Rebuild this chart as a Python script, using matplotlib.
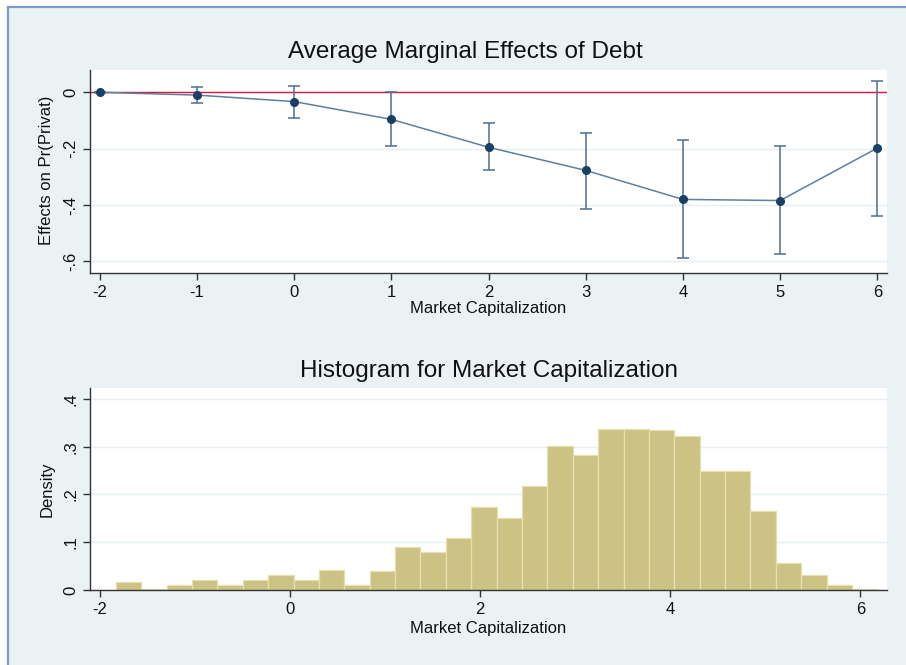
"""Average marginal effects of debt plus the histogram of market capitalization (Stata look)."""

import matplotlib
matplotlib.use("Agg")
import matplotlib.pyplot as plt
from matplotlib.patches import Rectangle
import numpy as np

plt.rcParams["font.family"] = ["Liberation Sans", "DejaVu Sans"]
plt.rcParams["axes.unicode_minus"] = False

# marginal effects at each value of market capitalization
cap_values = [-2, -1, 0, 1, 2, 3, 4, 5, 6]
effect = [0.0, -0.010, -0.033, -0.096, -0.195, -0.277, -0.380, -0.384, -0.198]
ci_low = [-0.002, -0.039, -0.092, -0.190, -0.275, -0.415, -0.588, -0.575, -0.440]
ci_high = [0.002, 0.020, 0.023, 0.000, -0.110, -0.144, -0.171, -0.190, 0.041]
effect_ticks = [0.0, -0.2, -0.4, -0.6]
effect_tick_labels = ["0", "-.2", "-.4", "-.6"]

# histogram: 30 equal bins
hist_start = -1.832
hist_width = 0.267
density = [0.016, 0.002, 0.011, 0.020, 0.0105, 0.020, 0.031, 0.020, 0.0425, 0.011,
           0.040, 0.090, 0.080, 0.1095, 0.173, 0.151, 0.218, 0.3016, 0.2834, 0.337,
           0.337, 0.335, 0.322, 0.250, 0.250, 0.166, 0.0565, 0.0314, 0.011, 0.002]
density_ticks = [0.0, 0.1, 0.2, 0.3, 0.4]
density_tick_labels = ["0", ".1", ".2", ".3", ".4"]
hist_xticks = [-2, 0, 2, 4, 6]

BACKGROUND = "#EAF2F3"
NAVY = "#1A3F66"
TEXT = "#111111"

W, H = 906, 665
fig = plt.figure(figsize=(W / 100, H / 100), dpi=100, facecolor="white")

# graph region: light bluish panel with a blue frame on the left and top
fig.patches.append(Rectangle((8 / W, 0), 1, 1 - 7 / H, transform=fig.transFigure,
                             facecolor=BACKGROUND, edgecolor="none", zorder=-10))
fig.add_artist(plt.Line2D([8 / W, 8 / W], [0, 1 - 7 / H], color="#7B9BD2", lw=1.6,
                          transform=fig.transFigure, zorder=-9))
fig.add_artist(plt.Line2D([8 / W, 1], [1 - 7 / H, 1 - 7 / H], color="#7B9BD2", lw=1.6,
                          transform=fig.transFigure, zorder=-9))


def axes_from_pixels(left, top, right, bottom):
    return fig.add_axes((left / W, 1 - bottom / H, (right - left) / W, (bottom - top) / H))


def style_axis(ax):
    ax.set_facecolor("white")
    for side in ("top", "right"):
        ax.spines[side].set_visible(False)
    for side in ("left", "bottom"):
        ax.spines[side].set_color("#333333")
        ax.spines[side].set_linewidth(1.0)
    ax.tick_params(direction="out", length=5, width=1.0, color="#333333",
                   labelsize=12, labelcolor=TEXT)
    ax.tick_params(axis="x", pad=4)
    ax.yaxis.grid(True, color="#E6EFF1", linewidth=1.0)
    ax.set_axisbelow(True)


# top panel: marginal effects
top_axis = axes_from_pixels(90, 70, 887, 273)
style_axis(top_axis)
top_axis.axhline(0.0, color="#D8173E", linewidth=1.0, zorder=2)
effect_arr = np.array(effect)
yerr = np.vstack([effect_arr - np.array(ci_low), np.array(ci_high) - effect_arr])
top_axis.errorbar(cap_values, effect, yerr=yerr, fmt="none", ecolor="#4D6F92",
                  elinewidth=1.1, capsize=4, capthick=1.1, zorder=3)
top_axis.plot(cap_values, effect, color="#5E7FA0", linewidth=1.1, zorder=3)
top_axis.plot(cap_values, effect, linestyle="none", marker="o", markersize=5.5,
              color=NAVY, zorder=4)
top_axis.set_xlim(-2.1, 6.1)
top_axis.set_ylim(-0.641, 0.079)
top_axis.set_xticks(cap_values)
top_axis.set_yticks(effect_ticks)
top_axis.set_yticklabels(effect_tick_labels, rotation=90, va="center")

fig.text(465 / W, 1 - 52 / H, "Average Marginal Effects of Debt", ha="center", va="center",
         fontsize=17.5, color=TEXT)
fig.text(488 / W, 1 - 309 / H, "Market Capitalization", ha="center", va="center",
         fontsize=12, color=TEXT)
fig.text(47 / W, 1 - 170 / H, "Effects on Pr(Privat)", ha="center", va="center",
         rotation=90, fontsize=12, color=TEXT)

# bottom panel: histogram
hist_axis = axes_from_pixels(90, 388, 887, 590)
style_axis(hist_axis)
edges = hist_start + hist_width * np.arange(len(density))
hist_axis.bar(edges, density, width=hist_width, align="edge", color="#CCC283",
              edgecolor="#E6E0B0", linewidth=0.9, zorder=2)
hist_axis.set_xlim(-2.105, 6.28)
hist_axis.set_ylim(0.0, 0.423)
hist_axis.set_xticks(hist_xticks)
hist_axis.set_yticks(density_ticks)
hist_axis.set_yticklabels(density_tick_labels, rotation=90, va="center")

fig.text(489 / W, 1 - 371 / H, "Histogram for Market Capitalization", ha="center",
         va="center", fontsize=17.5, color=TEXT)
fig.text(488 / W, 1 - 628 / H, "Market Capitalization", ha="center", va="center",
         fontsize=12, color=TEXT)
fig.text(47 / W, 1 - 489 / H, "Density", ha="center", va="center", rotation=90,
         fontsize=12, color=TEXT)

fig.savefig("out.png", dpi=100, facecolor=fig.get_facecolor())
